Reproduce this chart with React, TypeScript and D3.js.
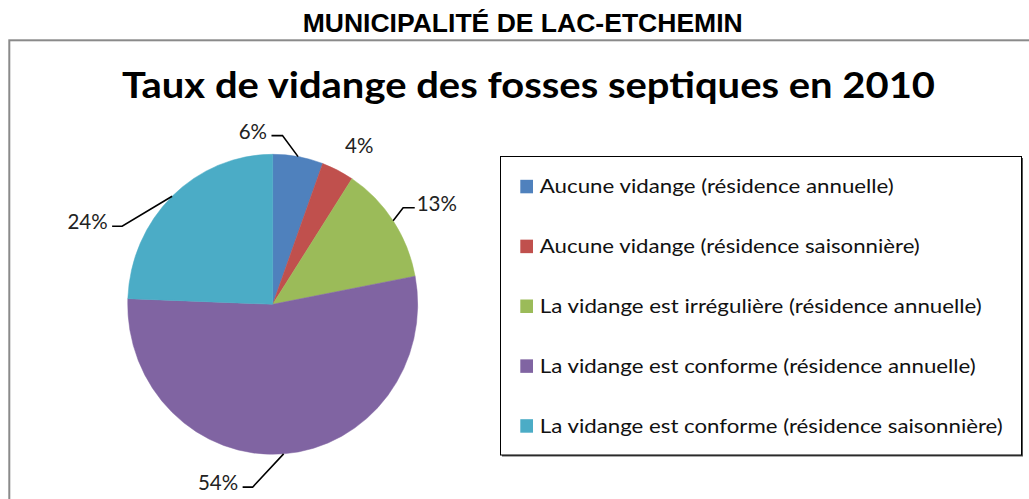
import React from "react";
import * as d3 from "d3";

const categories = [
  "Aucune vidange (résidence annuelle)",
  "Aucune vidange (résidence saisonnière)",
  "La vidange est irrégulière (résidence annuelle)",
  "La vidange est conforme (résidence annuelle)",
  "La vidange est conforme (résidence saisonnière)",
];
const values = [5.6, 3.6, 12.8, 53.6, 24.4];
const colors = ["#4F81BD", "#C0504D", "#9BBB59", "#8064A2", "#4BACC6"];
const headerText = "MUNICIPALITÉ DE LAC-ETCHEMIN";
const titleText = "Taux de vidange des fosses septiques en 2010";

// label placement: elbow offset from the slice's arc midpoint, then horizontal leader length
const labelPlacement = [
  { dx: -15.6, dy: -21, h: -11, leader: true },
  { dx: 7.4, dy: -17, h: 0, leader: false },
  { dx: 10, dy: -13, h: 11.6, leader: true },
  { dx: -31, dy: 33.3, h: -10, leader: true },
  { dx: -50, dy: 30, h: -10, leader: true },
];
const legendTextWidths = [354, 380, 442, 436, 463];

const W = 1029;
const H = 499;
const cx = 272.7;
const cy = 304.3;
const rx = 145;
const ry = 150;

export default function App() {
  const pie = d3
    .pie<number>()
    .sort(null)
    .value((d) => d)
    .startAngle(0)
    .endAngle(2 * Math.PI);
  const arcs = pie(values);
  const arcGen = d3.arc<d3.PieArcDatum<number>>().innerRadius(0).outerRadius(rx);

  const labelFont = "Lato, 'Open Sans', sans-serif";

  return (
    <svg
      width={W}
      height={H}
      viewBox={`0 0 ${W} ${H}`}
      style={{ position: "absolute", left: 0, top: 0, background: "#fff" }}
    >
      <rect x={0} y={0} width={W} height={H} fill="#fff" />
      <text
        x={302.7}
        y={31.7}
        fontFamily="'Liberation Sans', Arial, sans-serif"
        fontWeight="bold"
        fontSize={25}
        textLength={440}
        lengthAdjust="spacingAndGlyphs"
        fill="#000"
      >
        {headerText}
      </text>
      {/* outer frame */}
      <rect x={9.3} y={40.3} width={1200} height={600} fill="none" stroke="#8a8a8a" strokeWidth={2} />

      <text
        x={122}
        y={98}
        fontFamily={labelFont}
        fontWeight="bold"
        fontSize={36}
        textLength={813}
        lengthAdjust="spacingAndGlyphs"
        fill="#000"
      >
        {titleText}
      </text>

      {/* pie */}
      <g transform={`translate(${cx},${cy}) scale(1,${ry / rx})`}>
        {arcs.map((a, i) => (
          <path key={i} d={arcGen(a) || ""} fill={colors[i]} stroke={colors[i]} strokeWidth={0.5} />
        ))}
      </g>

      {/* data labels */}
      {arcs.map((a, i) => {
        const mid = (a.startAngle + a.endAngle) / 2;
        const px = cx + rx * Math.sin(mid);
        const py = cy - ry * Math.cos(mid);
        const p = labelPlacement[i];
        const ex = px + p.dx;
        const ey = py + p.dy;
        const hx = ex + p.h;
        const label = `${Math.round(values[i])}%`;
        let tx: number;
        let anchor: "start" | "end";
        if (!p.leader) {
          tx = ex;
          anchor = "start";
        } else if (p.h < 0) {
          tx = hx - 4.5;
          anchor = "end";
        } else {
          tx = hx + 2;
          anchor = "start";
        }
        const ty = p.leader ? ey + 3 : ey;
        return (
          <g key={i}>
            {p.leader && (
              <polyline
                points={`${px},${py} ${ex},${ey} ${hx},${ey}`}
                fill="none"
                stroke="#000"
                strokeWidth={1.6}
              />
            )}
            <text
              x={tx}
              y={ty}
              textAnchor={anchor}
              fontFamily={labelFont}
              fontSize={20.5}
              fill="#222"
            >
              {label}
            </text>
          </g>
        );
      })}

      {/* legend */}
      <rect x={502} y={158} width={521} height={298.5} fill="#555" />
      <rect x={500.5} y={156.5} width={521} height={298.5} fill="#fff" stroke="#000" strokeWidth={1} />
      {categories.map((c, i) => {
        const by = 193.3 + i * 59.85;
        return (
          <g key={i}>
            <rect x={520.3} y={by - 13.5} width={12.7} height={13.5} fill={colors[i]} />
            <text
              x={539.8}
              y={by}
              fontFamily={labelFont}
              fontSize={20}
              textLength={legendTextWidths[i]}
              lengthAdjust="spacingAndGlyphs"
              fill="#111"
            >
              {c}
            </text>
          </g>
        );
      })}
    </svg>
  );
}
